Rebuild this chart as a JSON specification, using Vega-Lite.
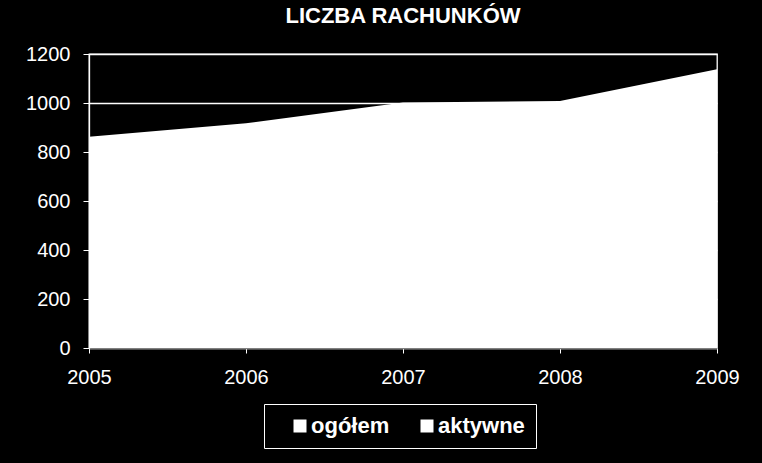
{
  "$schema": "https://vega.github.io/schema/vega-lite/v6.json",
  "width": 628,
  "height": 294,
  "autosize": {"type": "none"},
  "padding": {"left": 89, "top": 54, "right": 45, "bottom": 115},
  "background": "black",
  "title": {
    "text": "LICZBA RACHUNKÓW",
    "font": "Liberation Sans",
    "fontSize": 22,
    "fontWeight": "bold",
    "color": "white",
    "anchor": "middle",
    "frame": "group",
    "baseline": "alphabetic",
    "offset": -1
  },
  "config": {
    "view": {"stroke": "white", "strokeWidth": 1.3},
    "axis": {
      "labelFont": "Liberation Sans",
      "labelColor": "white",
      "labelFontSize": 20
    }
  },
  "data": {
    "values": [
      {"rok": 2005, "liczba": 862, "seria": "ogółem"},
      {"rok": 2006, "liczba": 917, "seria": "ogółem"},
      {"rok": 2007, "liczba": 1002, "seria": "ogółem"},
      {"rok": 2008, "liczba": 1008, "seria": "ogółem"},
      {"rok": 2009, "liczba": 1138, "seria": "ogółem"}
    ]
  },
  "mark": {"type": "area", "interpolate": "linear", "opacity": 1},
  "encoding": {
    "x": {
      "field": "rok",
      "type": "quantitative",
      "scale": {"domain": [2005, 2009], "nice": false, "zero": false},
      "axis": {
        "title": null,
        "values": [2005, 2006, 2007, 2008, 2009],
        "format": "d",
        "grid": false,
        "domainColor": "#808080",
        "domainWidth": 1.5,
        "tickColor": "white",
        "tickSize": 5,
        "labelPadding": 14,
        "labelFlush": false
      }
    },
    "y": {
      "field": "liczba",
      "type": "quantitative",
      "scale": {"domain": [0, 1200], "nice": false},
      "axis": {
        "title": null,
        "values": [0, 200, 400, 600, 800, 1000, 1200],
        "format": "d",
        "grid": true,
        "gridColor": "white",
        "gridWidth": 1.3,
        "gridOpacity": 1,
        "domainColor": "white",
        "domainWidth": 1.3,
        "tickColor": "white",
        "tickSize": 6,
        "labelPadding": 13
      }
    },
    "color": {
      "field": "seria",
      "type": "nominal",
      "scale": {"domain": ["ogółem", "aktywne"], "range": ["white", "white"]},
      "legend": {
        "title": null,
        "orient": "none",
        "legendX": 175,
        "legendY": 350,
        "direction": "horizontal",
        "symbolType": "square",
        "symbolSize": 169,
        "symbolStrokeWidth": 0,
        "symbolOpacity": 1,
        "symbolOffset": 14,
        "labelFont": "Liberation Sans",
        "labelFontSize": 22,
        "labelFontWeight": "bold",
        "labelColor": "white",
        "labelOffset": 0,
        "columnPadding": 12,
        "strokeColor": "white",
        "fillColor": "black",
        "padding": 11
      }
    }
  }
}
